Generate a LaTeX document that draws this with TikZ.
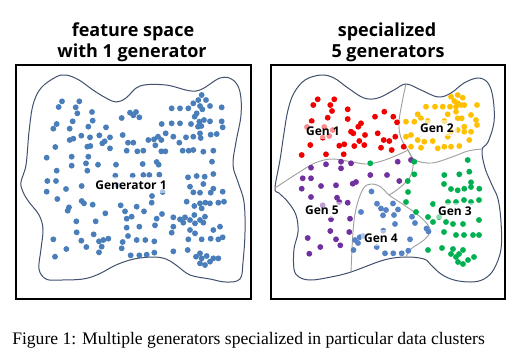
\documentclass[tikz,border=0pt]{standalone}
\usepackage{fontspec}
\setmainfont{Liberation Serif}
\newfontfamily\ttlfont{Open Sans}
\definecolor{lblue}{RGB}{74,126,187}
\definecolor{gred}{RGB}{240,0,0}
\definecolor{ggold}{RGB}{255,192,0}
\definecolor{ggreen}{RGB}{0,176,80}
\definecolor{gblue}{RGB}{84,130,196}
\definecolor{gpurple}{RGB}{112,48,160}
\definecolor{blobcol}{RGB}{64,80,110}
\definecolor{partcol}{RGB}{160,160,160}
\tikzset{
  frame/.style={draw=black,line width=1.6pt},
  blob/.style={draw=blobcol,line width=0.75pt},
  part/.style={draw=partcol,line width=0.7pt},
  ttl/.style={font=\ttlfont\bfseries\fontsize{13.5}{15}\selectfont,anchor=base,inner sep=0pt},
  lbl/.style={font=\ttlfont\bfseries\fontsize{9}{10}\selectfont,fill=white,fill opacity=0.55,text opacity=1,inner sep=2.5pt},
  captxt/.style={font=\fontsize{13.2}{15}\selectfont,anchor=base west,inner sep=0pt}
}
\def\dotr{2.2pt}
\begin{document}
\begin{tikzpicture}[x=0.75pt,y=-0.75pt]
\useasboundingbox (0,0) rectangle (529,351);
% titles
\node[ttl] (t1a) at (133,36) {feature space};
\node[ttl] (t1b) at (132,57) {with 1 generator};
\node[ttl] (t2a) at (387,36) {specialized};
\node[ttl] (t2b) at (388,57) {5 generators};
% frames
\draw[frame] (16,65) rectangle (251,299);
\draw[frame] (271,65) rectangle (505,299);
% left blob
\draw[blob] plot[smooth cycle,tension=0.6] coordinates {(21,182) (23,192) (29,202) (39,215) (43,229) (41,249) (39,269) (46,279) (59,280) (83,279) (99,274) (116,265) (134,259) (153,257) (166,259) (176,265) (190,275) (210,279) (226,282) (240,279) (243,262) (245,232) (244,202) (238,182) (233,165) (236,142) (241,115) (240,92) (233,80) (220,78) (196,91) (166,85) (140,86) (126,98) (116,102) (106,98) (93,90) (79,80) (66,75) (56,77) (41,88) (33,105) (29,132) (26,165)};
% left dots
\begin{scope}[x=0.25pt,y=-0.25pt]
\foreach \x/\y in {186/304,176/321,238/304,227/322,232/340,276/336,
160/386,170/372,218/364,209/386,265/380,278/362,
209/420,220/416,244/407,270/412,298/406,318/382,
166/441,262/440,271/438,307/430,314/424,330/412,330/445,
140/473,215/470,265/470,258/490,215/497,170/512,262/512,294/494,
142/543,168/543,140/575,198/567,245/558,172/597,245/603,252/610,278/614,207/622,203/632,
229/664,287/664,230/697,281/703,160/718,244/722,259/741,297/724,310/720,325/716,305/740,297/757,199/747,165/770,
365/354,390/338,408/336,418/352,400/346,
368/405,384/428,400/428,430/452,445/420,462/418,466/436,474/410,484/420,497/400,
380/452,412/454,484/454,496/454,
348/494,428/492,470/486,476/494,
346/527,398/527,430/525,448/525,478/524,352/556,488/576,
456/588,
362/616,375/634,410/620,432/634,455/608,395/650,380/656,470/656,486/642,
316/640,380/683,418/680,465/676,
368/726,384/708,410/720,436/720,463/724,365/745,392/766,418/766,440/764,463/758,
515/325,540/325,565/325,580/310,595/300,605/285,618/300,630/318,600/318,607/328,590/340,584/350,665/322,
598/365,612/360,630/364,604/378,594/380,573/372,540/370,515/370,485/372,665/364,668/382,
520/410,558/412,580/410,600/400,602/414,632/404,650/402,
538/428,548/452,566/452,580/450,610/455,640/452,
564/532,590/528,614/530,640/522,636/485,
570/560,610/552,580/577,600/578,632/578,668/575,640/566,
560/605,583/618,600/610,616/608,605/625,630/610,655/608,672/605,
520/652,540/658,555/652,570/660,583/645,600/660,610/668,585/670,550/668,615/650,
515/698,520/680,570/690,585/700,640/690,660/680,
565/718,605/718,632/716,655/718,668/712,
520/754,563/750,600/760,588/770,605/775,600/790,615/795,630/785,640/775,655/775,620/768}
  \fill[lblue] (\x,\y) circle[radius=\dotr];
\end{scope}
\node[lbl] (g1) at (131,185) {Generator 1};
% right blob
\draw[blob] plot[smooth cycle,tension=0.6] coordinates {(275,188) (280,160) (284,133) (288,110) (294,93) (305,80) (321,75) (334,78) (348,88) (364,98) (378,98) (394,90) (406,84) (421,90) (438,97) (451,93) (464,83) (478,78) (488,83) (493,98) (494,122) (488,142) (482,150) (485,168) (492,185) (498,199) (501,222) (501,249) (494,269) (484,279) (471,282) (454,280) (441,274) (431,265) (424,259) (406,257) (384,260) (351,272) (331,277) (311,280) (299,277) (294,269) (294,249) (298,232) (296,215) (288,202) (279,193)};
% partitions
\draw[part] plot[smooth,tension=0.6] coordinates {(275,188) (298,173) (315,163) (332,159) (352,162) (368,164) (385,160) (402,153) (408,150)};
\draw[part] plot[smooth,tension=0.6] coordinates {(406,84) (403,98) (399,122) (401,138) (408,150)};
\draw[part] plot[smooth,tension=0.6] coordinates {(408,150) (415,160) (432,163) (452,157) (468,151) (482,149)};
\draw[part] plot[smooth,tension=0.6] coordinates {(408,150) (413,162) (411,175) (404,184) (394,192) (389,195)};
\draw[part] plot[smooth,tension=0.6] coordinates {(351,272) (353,232) (356,209) (363,189) (371,184) (381,187) (389,195) (404,205) (418,215) (428,225) (430,232) (424,240) (411,249) (406,257)};
% red
\foreach \x/\y in {317.7/99.3,334.3/99.3,313.3/105,330.3/105,332/111,347.7/109.3,327.7/117.7,347.7/119,311.7/121,307/127,358.3/126.7,361/123.3,365/135,353.3/133.3,329.3/136,322.7/137.7,359.3/141,310.3/145,339.3/145.7,344.3/144.3,354.3/146,364.3/145,301.7/155,326/154.3,343.7/154.3,375/116.7,384.3/111.7,393.3/116.7,397/122.3,377.7/133.3,383.7/140,389.3/141,395.3/136.7,381/147.7,391.7/150,403.7/146.7,324.3/127,332.7/130,351/131.7}
  \fill[gred] (\x,\y) circle[radius=\dotr];
% gold
\foreach \x/\y in {451/96.7,457.7/95,462.7/97.7,454.3/101,457.7/103.3,461/105,456/106.7,464.3/105,426/106.7,435/106.7,442.7/106.7,450/106.7,477/105,417.7/114.3,421/118.3,447.7/114.3,456/111.7,471/115,476/120,477/125,406/121.7,406/136.7,411/135,417.7/140,424.3/141.7,432.7/141,447.7/136.7,451/131.7,457.7/130,464.3/131.7,471/131.7,469.3/140,411/146.7,421/147.7,437.7/148.3,444.3/146.7,451/146.7,459.3/146,464.3/126.7,414.3/121.7,427.7/121,444.3/121,457.7/118.3,461.7/118.3}
  \fill[ggold] (\x,\y) circle[radius=\dotr];
% purple
\foreach \x/\y in {326/164.3,341/161.7,351/163.3,341/168.3,311/167.7,302.7/178.3,311/178.3,370.3/175,387/175,399.3/181,397.7/161.7,411/160,301.7/188.7,321/186,336/185.3,352.7/183.7,356/182,311/197,337/197.7,347.7/202.7,350/218.7,331/219.3,349.3/232,330.3/231,307.7/238,336/239.3,340.3/245.3,320.3/247,309.3/253.7,322.7/205.3,339.3/202}
  \fill[gpurple] (\x,\y) circle[radius=\dotr];
% green
\foreach \x/\y in {370.3/163.3,414.3/161.7,467.7/160,414.3/174.3,444.3/175,459.3/174.3,469.3/171.7,407.7/181,471/182.3,444/184,451/189,457.7/190.3,464.3/188.7,471/187,479.3/188.7,408/192,406/202,448/202,456/202,471/202,433/204,464/200,479/200,416/212,428/217,439/217,446/222,453/224,463/224,433/222,479/220,444/232,456/235,464/235,473/235,479/235,428/250,442/248,453/249,451/254,456/257,459/254,463/250,468/260,474/257,463/264,458/262}
  \fill[ggreen] (\x,\y) circle[radius=\dotr];
% blue
\foreach \x/\y in {371.5/191.5,377/203.7,393/203.5,381/208.5,386/210,398/209.5,361/212,383/215.3,394/215,412/216.7,395/224,415/223,426.5/228.5,428.5/231.5,355/240,410/239.3,353.5/250,376.7/247,385/253.3,393.3/253.3,401.7/253.3,408.3/250.7,383.3/230.7,359.7/237.3,363/236,358/243}
  \fill[gblue] (\x,\y) circle[radius=\dotr];
% labels
\node[lbl] (gen1) at (323,131) {Gen 1};
\node[lbl] (gen2) at (437,128) {Gen 2};
\node[lbl] (gen5) at (322,210) {Gen 5};
\node[lbl] (gen3) at (455,211) {Gen 3};
\node[lbl] (gen4) at (381,238) {Gen 4};
% caption
\node[captxt] (caption) at (12,344) {Figure 1: Multiple generators specialized in particular data clusters};
\end{tikzpicture}
\end{document}
